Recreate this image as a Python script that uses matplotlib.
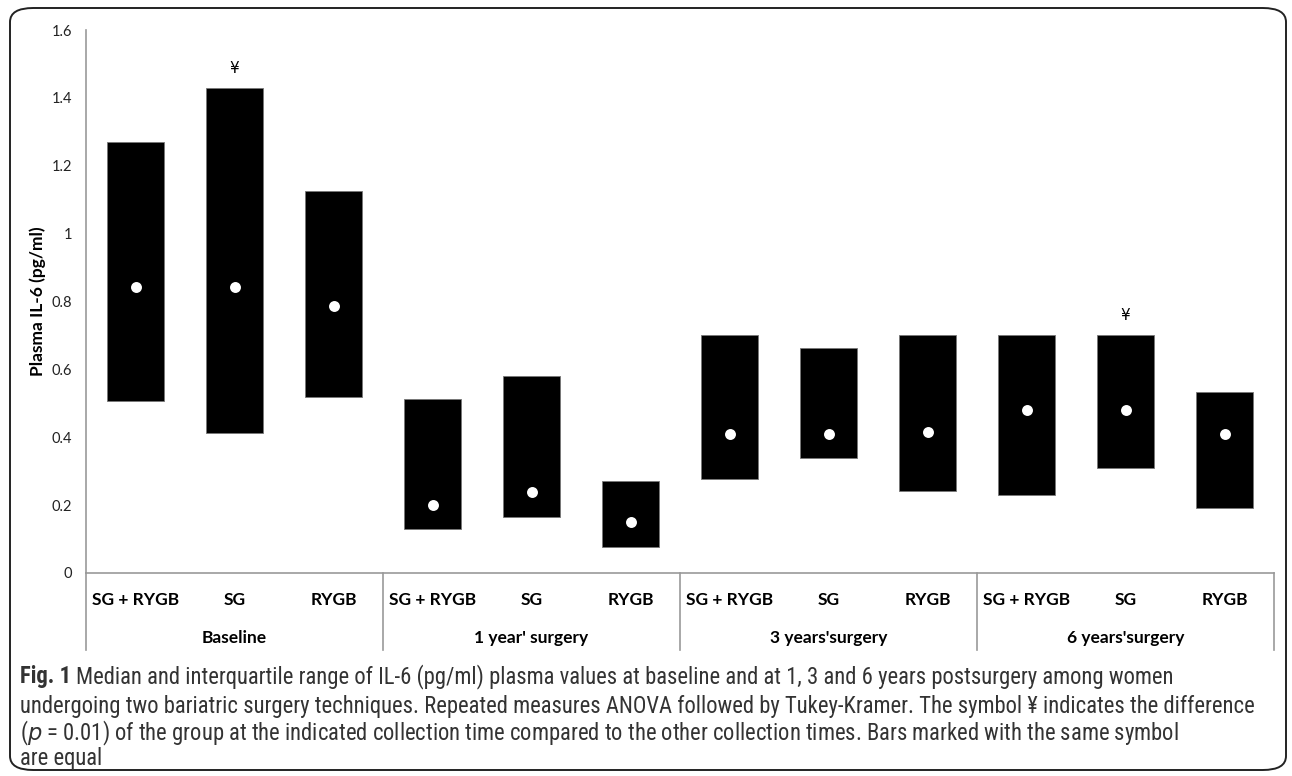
import matplotlib
matplotlib.use("Agg")
import matplotlib.pyplot as plt
from matplotlib import font_manager
from matplotlib.patches import FancyBboxPatch

# data
groups = ["Baseline", "1 year' surgery", "3 years'surgery", "6 years'surgery"]
techniques = ["SG + RYGB", "SG", "RYGB"]
q1 = [0.508, 0.413, 0.520, 0.130, 0.164, 0.078, 0.278, 0.339, 0.241, 0.229, 0.309, 0.191]
q3 = [1.271, 1.430, 1.125, 0.512, 0.581, 0.272, 0.702, 0.662, 0.702, 0.702, 0.702, 0.533]
medians = [0.842, 0.842, 0.786, 0.199, 0.239, 0.149, 0.410, 0.410, 0.415, 0.480, 0.480, 0.410]
marks = ["", "¥", "", "", "", "", "", "", "", "", "¥", ""]

names = {f.name for f in font_manager.fontManager.ttflist}
main_font = "Lato"
cap_font = "Lato"
for cand in ["Roboto Condensed", "Liberation Sans Narrow", "DejaVu Sans Condensed"]:
    if cand in names:
        cap_font = cand
        break

plt.rcParams["font.family"] = [main_font, "DejaVu Sans"]

fig = plt.figure(figsize=(12.92, 7.76), dpi=100)
W, H = 1292, 776

# rounded frame around chart + caption
frame = FancyBboxPatch((10 / W, 1 - 770 / H), 1276 / W, 762 / H,
                       boxstyle="round,pad=0,rounding_size=0.018",
                       transform=fig.transFigure, fill=False,
                       edgecolor="#222222", linewidth=1.4, clip_on=False)
fig.patches.append(frame)

ax = fig.add_axes([86 / W, 1 - 573 / H, (1274 - 86) / W, (573 - 30) / H])
x = list(range(len(q1)))
heights = [b - a for a, b in zip(q1, q3)]
ax.bar(x, heights, bottom=q1, width=0.58, color="black", edgecolor="#777777", linewidth=0.6)
ax.scatter(x, medians, s=62, color="white", zorder=3, linewidths=0)
for xi, top, m in zip(x, q3, marks):
    if m:
        ax.text(xi, top + 0.035, m, ha="center", va="bottom", fontsize=11, family=["DejaVu Sans"])

ax.set_xlim(-0.5, len(q1) - 0.5)
ax.set_ylim(0, 1.6)
ax.set_yticks([0, 0.2, 0.4, 0.6, 0.8, 1.0, 1.2, 1.4, 1.6])
ax.set_yticklabels(["0", "0.2", "0.4", "0.6", "0.8", "1", "1.2", "1.4", "1.6"], fontsize=10.5)
ax.tick_params(axis="y", length=0, pad=10, colors="#222222")
ax.set_xticks([])
for s in ["top", "right"]:
    ax.spines[s].set_visible(False)
for s in ["left", "bottom"]:
    ax.spines[s].set_color("#999999")
    ax.spines[s].set_linewidth(1.2)
ax.set_ylabel("Plasma IL-6 (pg/ml)", fontsize=12.5, fontweight="bold")
ax.yaxis.set_label_coords((46 - 86) / 1188, 0.5)

# category labels and group separators
for i in range(len(q1)):
    ax.text(i, -0.08, techniques[i % 3], ha="center", va="center",
            fontsize=12.5, fontweight="bold", clip_on=False)
for g, name in enumerate(groups):
    ax.text(g * 3 + 1, -0.192, name, ha="center", va="center",
            fontsize=12.5, fontweight="bold", clip_on=False)
for g in range(len(groups) + 1):
    ax.plot([g * 3 - 0.5, g * 3 - 0.5], [0, -0.227], color="#999999",
            linewidth=1.2, clip_on=False)

# caption
cap_kw = dict(ha="left", va="center", fontsize=16.3, color="#333333",
              family=[cap_font, "DejaVu Sans"])
lead = fig.text(20 / W, 1 - 677 / H, "Fig. 1", fontweight="bold", **cap_kw)
fig.canvas.draw()
bb = lead.get_window_extent()
fig.text((bb.x1 + 5) / W, 1 - 677 / H,
         "Median and interquartile range of IL-6 (pg/ml) plasma values at baseline and at 1, 3 and 6 years postsurgery among women",
         **cap_kw)
fig.text(20 / W, 1 - 706 / H,
         "undergoing two bariatric surgery techniques. Repeated measures ANOVA followed by Tukey-Kramer. The symbol ¥ indicates the difference",
         **cap_kw)
fig.text(20 / W, 1 - 733 / H,
         r"($\it{p}$ = 0.01) of the group at the indicated collection time compared to the other collection times. Bars marked with the same symbol",
         **cap_kw)
fig.text(20 / W, 1 - 758 / H, "are equal", **cap_kw)

fig.savefig("out.png", dpi=100)
